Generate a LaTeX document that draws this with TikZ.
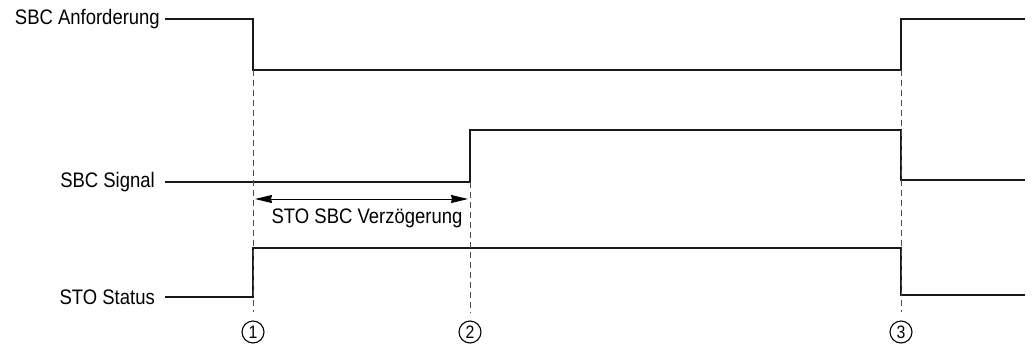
\documentclass[tikz,border=0pt]{standalone}
\usepackage{fontspec}
\setmainfont[FakeStretch=0.88]{Liberation Sans}
\usetikzlibrary{arrows.meta, positioning}

\begin{document}
\begin{tikzpicture}[x=1pt,y=-1pt, font=\fontsize{21}{24}\selectfont,
  trace/.style={line width=2.2pt, black!90},
  guide/.style={dash pattern=on 6pt off 4pt, line width=0.8pt, black!70},
  numcirc/.style={circle, draw, line width=1.1pt, minimum size=22pt, inner sep=0pt, font=\fontsize{18}{18}\selectfont}]
\useasboundingbox (0,0) rectangle (1034,349);

% signal names
\node[anchor=east, inner sep=0pt] (lblAnf) at (160,19) {SBC Anforderung};
\node[anchor=east, inner sep=0pt] (lblSig) at (155,182) {SBC Signal};
\node[anchor=east, inner sep=0pt] (lblSto) at (155,297) {STO Status};

% traces
\draw[trace] ([xshift=5pt]lblAnf.east) -- (253,19) -- (253,70) -- (901,70) -- (901,19) -- (1025,19);
\draw[trace] ([xshift=10pt]lblSig.east) -- (470,182) -- (470,130) -- (901,130) -- (901,180) -- (1025,180);
\draw[trace] ([xshift=10pt]lblSto.east) -- (253,297) -- (253,248) -- (901,248) -- (901,295) -- (1025,295);

% events
\foreach \t/\top/\n in {253/70/1, 470/182/2, 901/70/3} {
  \node[numcirc] (ev\n) at (\t,332) {\n};
  \draw[guide] (\t,\top) -- ([yshift=8pt]ev\n.north);
}

% delay
\coordinate (dA) at (255,199);
\coordinate (dB) at (468,199);
\draw[{Stealth[length=17pt,width=8pt,inset=1pt]}-{Stealth[length=17pt,width=8pt,inset=1pt]}, line width=1pt] (dA) -- (dB);
\node (delay) at (367,218) {STO SBC Verzögerung};
\end{tikzpicture}
\end{document}
